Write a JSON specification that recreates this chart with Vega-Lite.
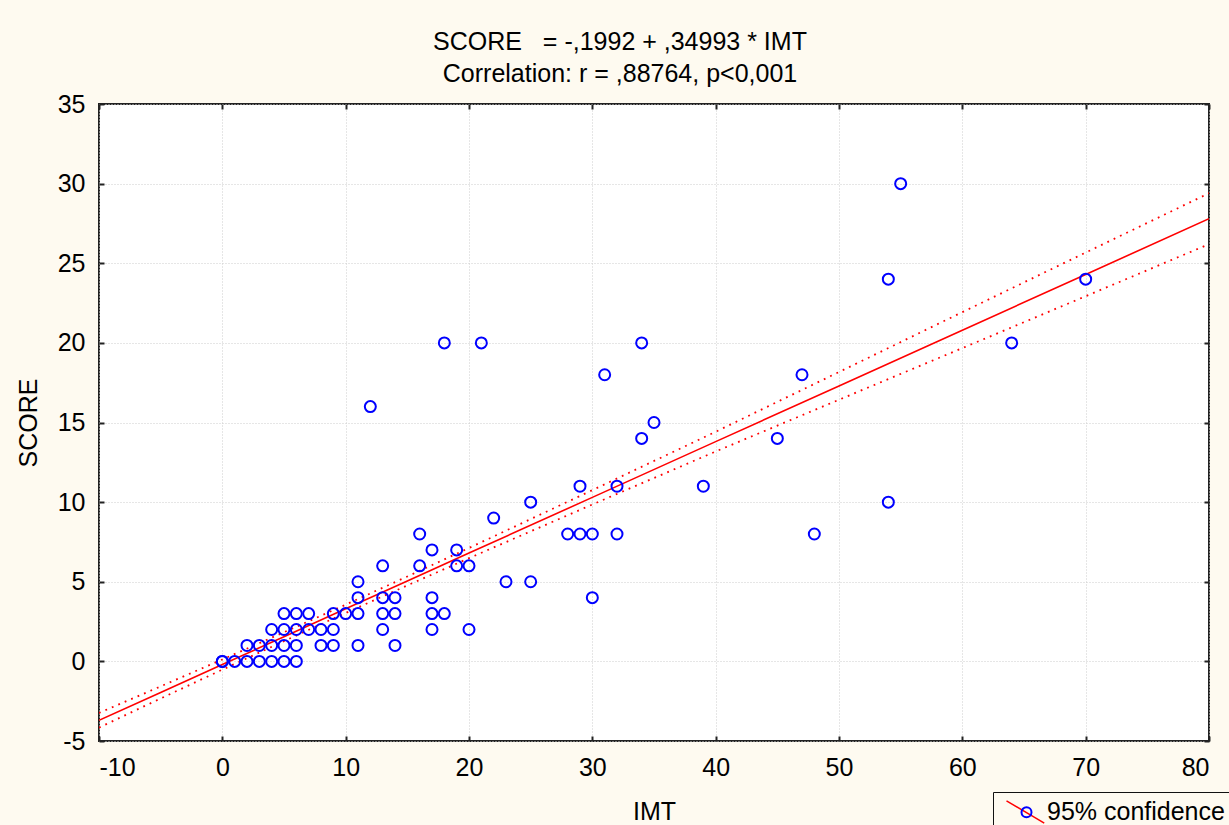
{
  "$schema": "https://vega.github.io/schema/vega-lite/v6.json",
  "autosize": "none",
  "width": 1110,
  "height": 637,
  "padding": {"left": 99, "top": 104, "right": 20, "bottom": 84},
  "background": "#FEFAF0",
  "title": {
    "text": ["SCORE\u00a0\u00a0 = -,1992 + ,34993 * IMT", "Correlation: r = ,88764, p<0,001"],
    "anchor": "middle",
    "font": "Liberation Sans",
    "fontSize": 25,
    "fontWeight": "normal",
    "color": "black",
    "lineHeight": 32,
    "offset": 5,
    "dx": -34
  },
  "datasets": {
    "pts": [
      {"IMT": 0, "SCORE": 0}, {"IMT": 0, "SCORE": 0}, {"IMT": 1, "SCORE": 0}, {"IMT": 2, "SCORE": 0}, {"IMT": 3, "SCORE": 0}, {"IMT": 4, "SCORE": 0}, {"IMT": 5, "SCORE": 0}, {"IMT": 6, "SCORE": 0},
      {"IMT": 2, "SCORE": 1}, {"IMT": 3, "SCORE": 1}, {"IMT": 4, "SCORE": 1}, {"IMT": 5, "SCORE": 1}, {"IMT": 6, "SCORE": 1}, {"IMT": 8, "SCORE": 1}, {"IMT": 9, "SCORE": 1}, {"IMT": 11, "SCORE": 1}, {"IMT": 14, "SCORE": 1},
      {"IMT": 4, "SCORE": 2}, {"IMT": 5, "SCORE": 2}, {"IMT": 6, "SCORE": 2}, {"IMT": 7, "SCORE": 2}, {"IMT": 8, "SCORE": 2}, {"IMT": 9, "SCORE": 2}, {"IMT": 13, "SCORE": 2}, {"IMT": 17, "SCORE": 2}, {"IMT": 20, "SCORE": 2},
      {"IMT": 5, "SCORE": 3}, {"IMT": 6, "SCORE": 3}, {"IMT": 7, "SCORE": 3}, {"IMT": 9, "SCORE": 3}, {"IMT": 10, "SCORE": 3}, {"IMT": 11, "SCORE": 3}, {"IMT": 13, "SCORE": 3}, {"IMT": 14, "SCORE": 3}, {"IMT": 17, "SCORE": 3}, {"IMT": 18, "SCORE": 3},
      {"IMT": 11, "SCORE": 4}, {"IMT": 13, "SCORE": 4}, {"IMT": 14, "SCORE": 4}, {"IMT": 17, "SCORE": 4}, {"IMT": 30, "SCORE": 4},
      {"IMT": 11, "SCORE": 5}, {"IMT": 23, "SCORE": 5}, {"IMT": 25, "SCORE": 5},
      {"IMT": 13, "SCORE": 6}, {"IMT": 16, "SCORE": 6}, {"IMT": 19, "SCORE": 6}, {"IMT": 20, "SCORE": 6},
      {"IMT": 17, "SCORE": 7}, {"IMT": 19, "SCORE": 7},
      {"IMT": 16, "SCORE": 8}, {"IMT": 28, "SCORE": 8}, {"IMT": 29, "SCORE": 8}, {"IMT": 30, "SCORE": 8}, {"IMT": 32, "SCORE": 8}, {"IMT": 48, "SCORE": 8},
      {"IMT": 22, "SCORE": 9},
      {"IMT": 25, "SCORE": 10}, {"IMT": 54, "SCORE": 10},
      {"IMT": 29, "SCORE": 11}, {"IMT": 32, "SCORE": 11}, {"IMT": 39, "SCORE": 11},
      {"IMT": 34, "SCORE": 14}, {"IMT": 45, "SCORE": 14},
      {"IMT": 35, "SCORE": 15},
      {"IMT": 12, "SCORE": 16},
      {"IMT": 31, "SCORE": 18}, {"IMT": 47, "SCORE": 18},
      {"IMT": 18, "SCORE": 20}, {"IMT": 21, "SCORE": 20}, {"IMT": 34, "SCORE": 20}, {"IMT": 64, "SCORE": 20},
      {"IMT": 54, "SCORE": 24}, {"IMT": 70, "SCORE": 24},
      {"IMT": 55, "SCORE": 30}
    ],
    "fit": [
      {"IMT": -10, "fit": -3.6985, "lo": -4.16, "hi": -3.24},
      {"IMT": -5, "fit": -1.9489, "lo": -2.33, "hi": -1.57},
      {"IMT": 0, "fit": -0.1992, "lo": -0.52, "hi": 0.12},
      {"IMT": 5, "fit": 1.5505, "lo": 1.27, "hi": 1.83},
      {"IMT": 10, "fit": 3.3001, "lo": 3.04, "hi": 3.56},
      {"IMT": 15, "fit": 5.0498, "lo": 4.77, "hi": 5.33},
      {"IMT": 20, "fit": 6.7994, "lo": 6.48, "hi": 7.12},
      {"IMT": 30, "fit": 10.2987, "lo": 9.85, "hi": 10.75},
      {"IMT": 40, "fit": 13.798, "lo": 13.18, "hi": 14.42},
      {"IMT": 50, "fit": 17.2973, "lo": 16.43, "hi": 18.17},
      {"IMT": 60, "fit": 20.7966, "lo": 19.67, "hi": 21.93},
      {"IMT": 70, "fit": 24.2959, "lo": 22.93, "hi": 25.67},
      {"IMT": 80, "fit": 27.7952, "lo": 26.2, "hi": 29.4}
    ]
  },
  "layer": [
    {
      "data": {"name": "fit"},
      "mark": {"type": "line", "stroke": "#ff0000", "strokeWidth": 1.8, "strokeDash": [1.8, 5.2], "clip": true},
      "encoding": {
        "x": {"field": "IMT", "type": "quantitative", "scale": {"domain": [-10, 80], "nice": false, "zero": false},
              "axis": {"orient": "top", "labels": false, "title": null, "grid": false, "domain": false, "values": [-10, 0, 10, 20, 30, 40, 50, 60, 70, 80], "tickSize": -5, "tickWidth": 2, "tickColor": "#222"}},
        "y": {"field": "hi", "type": "quantitative", "scale": {"domain": [-5, 35], "nice": false, "zero": false},
              "axis": {"orient": "right", "labels": false, "title": null, "grid": false, "domain": false, "values": [-5, 0, 5, 10, 15, 20, 25, 30, 35], "tickSize": -5, "tickWidth": 2, "tickColor": "#222"}}
      }
    },
    {
      "data": {"name": "fit"},
      "mark": {"type": "line", "stroke": "#ff0000", "strokeWidth": 1.8, "strokeDash": [1.8, 5.2], "clip": true},
      "encoding": {
        "x": {"field": "IMT", "type": "quantitative", "axis": null},
        "y": {"field": "lo", "type": "quantitative", "axis": null}
      }
    },
    {
      "data": {"name": "fit"},
      "mark": {"type": "line", "strokeWidth": 1.6, "clip": true},
      "encoding": {
        "x": {"field": "IMT", "type": "quantitative", "axis": null},
        "y": {"field": "fit", "type": "quantitative", "axis": null},
        "color": {
          "datum": "95% confidence\u00a0\u00a0\u00a0\u00a0",
          "scale": {"range": ["#ff0000"]},
          "legend": {
            "orient": "none", "legendX": 894, "legendY": 688, "title": null,
            "padding": 7, "strokeColor": "#111",
            "symbolType": "M-0.75,-1.34L3.97,1.46", "symbolSize": 256,
            "symbolStrokeColor": "#ff0000", "symbolStrokeWidth": 1.5, "symbolFillColor": "transparent",
            "labelFont": "Liberation Sans", "labelFontSize": 25, "labelColor": "black",
            "labelOffset": 22, "labelLimit": 500
          }
        }
      }
    },
    {
      "data": {"name": "pts"},
      "mark": {"type": "point", "shape": "circle", "filled": false, "stroke": "#0000ff", "strokeWidth": 2, "size": 121},
      "encoding": {
        "x": {"field": "IMT", "type": "quantitative",
              "axis": {"orient": "bottom", "title": "IMT", "grid": true, "gridColor": "#cccccc", "gridDash": [1, 2], "domain": false,
                       "values": [-10, 0, 10, 20, 30, 40, 50, 60, 70, 80], "labelExpr": "'' + datum.value",
                       "tickSize": -5, "tickWidth": 2, "tickColor": "#222", "labelPadding": 19,
                       "labelFont": "Liberation Sans", "labelFontSize": 25, "labelColor": "black",
                       "titleFont": "Liberation Sans", "titleFontSize": 25, "titleFontWeight": "normal", "titleColor": "black",
                       "titleY": 78, "titleBaseline": "alphabetic"}},
        "y": {"field": "SCORE", "type": "quantitative",
              "axis": {"orient": "left", "title": "SCORE", "grid": true, "gridColor": "#cccccc", "gridDash": [1, 2], "domain": false,
                       "values": [-5, 0, 5, 10, 15, 20, 25, 30, 35], "labelExpr": "'' + datum.value",
                       "tickSize": -5, "tickWidth": 2, "tickColor": "#222", "labelPadding": 19,
                       "labelFont": "Liberation Sans", "labelFontSize": 25, "labelColor": "black",
                       "titleFont": "Liberation Sans", "titleFontSize": 25, "titleFontWeight": "normal", "titleColor": "black",
                       "titleAngle": -90, "titleX": -71, "titleBaseline": "middle"}},
        "opacity": {
          "datum": "o",
          "scale": {"range": [1]},
          "legend": {
            "orient": "none", "legendX": 894, "legendY": 688, "title": null,
            "padding": 7,
            "symbolType": "M2.375,0.1A0.625,0.625,0,1,1,1.125,0.1A0.625,0.625,0,1,1,2.375,0.1Z", "symbolSize": 256,
            "symbolStrokeColor": "#0000ff", "symbolStrokeWidth": 2, "symbolFillColor": "transparent",
            "labelFont": "Liberation Sans", "labelFontSize": 25, "labelOpacity": 0, "labelExpr": "''",
            "labelOffset": 22, "labelLimit": 500
          }
        }
      }
    }
  ],
  "config": {
    "view": {"fill": "white", "stroke": "#222", "strokeWidth": 2}
  }
}
